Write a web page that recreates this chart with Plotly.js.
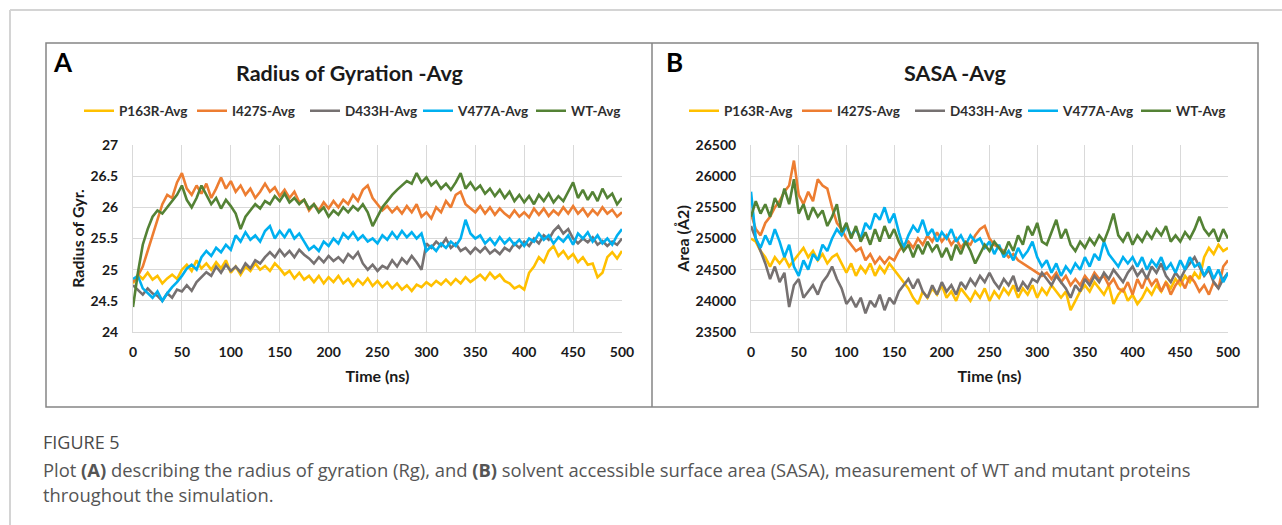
<!DOCTYPE html>
<html>
<head>
<meta charset="utf-8">
<script src="https://cdn.plot.ly/plotly-3.0.1.min.js"></script>
<style>html,body{margin:0;padding:0;background:#fff;}#chart{width:1282px;height:525px;}</style>
</head>
<body>
<div id="chart"></div>
<script>
// Time (ns)
const timeNs = [0,5,10,15,20,25,30,35,40,45,50,55,60,65,70,75,80,85,90,95,100,105,110,115,120,125,130,135,140,145,150,155,160,165,170,175,180,185,190,195,200,205,210,215,220,225,230,235,240,245,250,255,260,265,270,275,280,285,290,295,300,305,310,315,320,325,330,335,340,345,350,355,360,365,370,375,380,385,390,395,400,405,410,415,420,425,430,435,440,445,450,455,460,465,470,475,480,485,490,495,500];

const seriesNames = ["P163R-Avg","I427S-Avg","D433H-Avg","V477A-Avg","WT-Avg"];

// Panel A: Radius of gyration
const rgP163R = [24.78,24.92,24.85,24.95,24.84,24.9,24.78,24.86,24.92,24.85,25.0,25.08,24.98,25.15,25.02,25.1,25.0,25.12,25.02,25.15,24.95,25.05,24.92,25.05,24.98,25.1,25.0,25.06,24.98,25.1,25.02,24.92,24.98,24.86,24.95,24.84,24.9,24.8,24.9,24.78,24.88,24.8,24.9,24.78,24.85,24.74,24.84,24.76,24.86,24.74,24.82,24.72,24.8,24.7,24.78,24.68,24.75,24.66,24.76,24.72,24.8,24.74,24.82,24.76,24.84,24.76,24.85,24.78,24.88,24.8,24.86,24.92,24.84,24.95,24.86,24.92,24.82,24.78,24.7,24.74,24.68,24.95,25.05,25.2,25.12,25.3,25.38,25.22,25.3,25.18,25.25,25.12,25.2,25.08,25.1,24.88,24.95,25.2,25.28,25.18,25.3];
const rgI427S = [24.8,24.9,25.05,25.3,25.55,25.8,26.05,26.2,26.15,26.4,26.55,26.3,26.2,26.35,26.22,26.38,26.15,26.3,26.48,26.3,26.42,26.25,26.35,26.2,26.3,26.15,26.25,26.38,26.25,26.32,26.18,26.28,26.15,26.25,26.08,26.12,25.95,26.05,25.95,26.08,25.98,26.1,26.0,26.12,26.05,26.2,26.1,26.28,26.35,26.15,26.05,25.95,26.02,25.92,26.0,25.9,26.02,25.92,26.05,25.85,25.92,25.82,26.0,25.92,26.1,26.0,26.2,26.25,26.05,25.98,25.92,26.02,25.9,26.0,25.88,25.98,25.9,25.84,25.95,25.85,25.92,25.84,25.98,25.88,25.98,25.86,25.95,25.88,26.0,25.9,26.02,25.9,25.98,25.86,25.96,25.88,26.0,25.9,25.96,25.85,25.92];
const rgD433H = [24.75,24.68,24.6,24.7,24.62,24.58,24.5,24.62,24.55,24.68,24.65,24.75,24.66,24.8,24.88,24.96,24.9,25.05,24.95,25.08,24.98,25.05,24.96,25.1,25.02,25.15,25.1,25.2,25.28,25.2,25.32,25.22,25.3,25.2,25.32,25.24,25.18,25.1,25.2,25.12,25.22,25.14,25.2,25.12,25.25,25.18,25.28,25.1,25.0,25.08,24.98,25.06,25.02,25.15,25.05,25.18,25.1,25.22,25.12,25.0,25.42,25.35,25.45,25.38,25.5,25.35,25.42,25.3,25.35,25.26,25.35,25.28,25.36,25.26,25.32,25.25,25.35,25.3,25.42,25.35,25.45,25.38,25.5,25.42,25.55,25.48,25.62,25.7,25.58,25.65,25.5,25.42,25.5,25.44,25.52,25.4,25.46,25.38,25.45,25.4,25.5];
const rgV477A = [24.85,24.9,24.7,24.62,24.55,24.65,24.5,24.62,24.72,24.8,24.9,25.02,25.08,25.0,25.2,25.3,25.22,25.35,25.28,25.4,25.32,25.55,25.45,25.6,25.48,25.55,25.45,25.62,25.7,25.5,25.62,25.52,25.65,25.5,25.58,25.45,25.32,25.38,25.3,25.45,25.38,25.5,25.42,25.58,25.5,25.6,25.48,25.55,25.45,25.5,25.42,25.55,25.48,25.6,25.5,25.62,25.52,25.6,25.5,25.58,25.3,25.38,25.3,25.42,25.35,25.45,25.38,25.5,25.8,25.58,25.5,25.55,25.42,25.5,25.4,25.52,25.42,25.5,25.4,25.48,25.38,25.5,25.45,25.58,25.48,25.55,25.42,25.52,25.45,25.55,25.4,25.58,25.5,25.6,25.45,25.55,25.42,25.5,25.4,25.55,25.65];
const rgWT = [24.4,24.95,25.4,25.65,25.85,25.95,25.9,26.0,26.1,26.2,26.35,26.12,26.0,26.15,26.35,26.2,26.05,26.15,25.98,26.12,26.02,25.9,25.65,25.85,25.95,26.05,25.98,26.1,26.05,26.18,26.1,26.22,26.08,26.15,26.05,26.12,25.98,26.05,25.92,26.0,25.85,25.95,25.88,26.0,25.92,26.02,25.95,26.05,25.92,25.7,25.85,26.0,26.1,26.2,26.28,26.35,26.42,26.38,26.55,26.4,26.48,26.35,26.42,26.3,26.38,26.28,26.4,26.55,26.3,26.4,26.28,26.35,26.22,26.3,26.18,26.28,26.15,26.25,26.1,26.2,26.08,26.18,26.05,26.2,26.1,26.22,26.08,26.18,26.1,26.25,26.4,26.15,26.28,26.12,26.25,26.1,26.3,26.15,26.22,26.05,26.15];

// Panel B: SASA (Å2)
const sasaP163R = [25000,24950,24800,24700,24550,24700,24600,24700,24550,24650,24750,24850,24700,24800,24650,24750,24600,24700,24750,24600,24450,24600,24400,24550,24450,24600,24400,24550,24450,24600,24500,24400,24300,24200,24050,23950,24150,24050,24200,24100,24250,24050,24150,24000,24200,24100,24000,24150,24050,24200,24000,24150,24050,24200,24100,24250,24050,24200,24100,24250,24050,24200,24100,24250,24150,24050,24150,23850,24000,24150,24250,24150,24300,24200,24100,24250,23950,24100,24200,24000,24100,23950,24050,24200,24100,24250,24150,24300,24200,24350,24250,24400,24300,24450,24350,24700,24850,24750,24900,24800,24850];
const sasaI427S = [25400,25150,25050,25250,25350,25500,25600,25750,25850,26250,25700,25550,25750,25600,25950,25850,25800,25500,25250,25150,25000,24900,24800,24850,24650,24750,24600,24700,24600,24700,24650,24800,24900,24950,24850,25000,24900,25050,24950,25100,24950,25050,24900,25000,24850,24950,24900,25050,25150,25200,25000,24900,24850,24800,24700,24750,24650,24600,24550,24500,24450,24400,24450,24350,24450,24300,24400,24250,24350,24250,24400,24300,24450,24350,24400,24250,24350,24200,24150,24300,24100,24350,24200,24400,24250,24350,24150,24300,24100,24250,24350,24200,24400,24300,24150,24250,24100,24300,24200,24550,24650];
const sasaD433H = [25200,25000,24800,24600,24350,24550,24300,24450,23900,24250,24350,24050,24150,24250,24100,24300,24400,24550,24350,24200,23950,24050,23900,24050,23800,24000,23900,24100,23850,24050,23950,24150,24250,24350,24200,24350,24150,24050,24250,24100,24300,24150,24250,24100,24300,24200,24350,24250,24400,24300,24450,24300,24200,24350,24250,24400,24150,24300,24200,24350,24300,24450,24350,24250,24400,24300,24200,24050,24250,24150,24350,24250,24400,24300,24450,24350,24500,24400,24300,24450,24550,24400,24500,24350,24550,24450,24600,24400,24300,24450,24350,24500,24600,24700,24550,24400,24500,24300,24200,24350,24450];
const sasaV477A = [25750,25000,24850,25050,24900,25150,24950,24700,24900,24550,24400,24650,24500,24750,24650,24900,24800,25000,25150,25050,25200,25050,25150,25000,25250,25150,25400,25300,25500,25250,25400,25100,24850,25050,25200,25100,25300,25050,25150,24950,25100,25000,25150,24950,25050,24900,25050,24950,25000,24850,24950,24750,24900,24700,24800,24650,24850,24700,24800,24950,24700,24550,24650,24450,24600,24400,24550,24450,24600,24500,24700,24550,24750,24650,24950,24750,24650,24550,24700,24600,24700,24550,24700,24500,24650,24550,24700,24500,24600,24450,24650,24500,24700,24550,24600,24400,24550,24350,24500,24300,24450];
const sasaWT = [25350,25600,25400,25550,25350,25650,25500,25800,25550,25950,25400,25550,25300,25500,25350,25450,25200,25350,25550,25100,25250,25000,25200,24950,25100,24900,25150,24950,25200,25000,25150,24950,24800,24900,24700,24900,24750,24950,24800,24900,24700,24850,24650,24900,24750,24950,24800,24600,24750,24900,24800,24950,24850,24750,24950,24800,25050,24900,25200,25050,25250,24950,24900,25100,25300,25000,25150,24900,24800,24950,24850,25000,24900,25050,24950,25150,25400,25050,24950,25100,24900,25050,24950,25100,25000,25150,25050,25200,24950,25050,24950,25100,25000,25150,25350,25150,25050,25150,24950,25150,25000];

const seriesColors = ["#FFC000","#ED7D31","#767171","#00B0F0","#548235"];
const rgData = [rgP163R, rgI427S, rgD433H, rgV477A, rgWT];
const sasaData = [sasaP163R, sasaI427S, sasaD433H, sasaV477A, sasaWT];

const W = 1282, H = 525;
const px = x => x / W;
const py = y => 1 - y / H;
const FONT = "Lato, 'Open Sans', 'DejaVu Sans', sans-serif";

const traces = [];
rgData.forEach((vals, i) => {
  traces.push({x: timeNs, y: vals, type: 'scatter', mode: 'lines', name: seriesNames[i],
    xaxis: 'x', yaxis: 'y', legend: 'legend',
    line: {color: seriesColors[i], width: 2.6}, hoverinfo: 'x+y+name'});
});
sasaData.forEach((vals, i) => {
  traces.push({x: timeNs, y: vals, type: 'scatter', mode: 'lines', name: seriesNames[i],
    xaxis: 'x2', yaxis: 'y2', legend: 'legend2',
    line: {color: seriesColors[i], width: 2.6}, hoverinfo: 'x+y+name'});
});

const tickFont = {family: FONT, size: 14, color: '#1a1a1a', weight: 'bold'};
const axTitleFont = {family: FONT, size: 16, color: '#1a1a1a', weight: 'bold'};
const gridC = '#d9d9d9';

function xAxis(domain, anchor) {
  return {domain: domain, anchor: anchor, range: [0, 500], dtick: 50, tick0: 0,
    showgrid: true, gridcolor: gridC, gridwidth: 1, showline: true, linecolor: gridC, linewidth: 1,
    zeroline: false, ticks: '', tickfont: tickFont, ticklabelstandoff: 7,
    title: {text: 'Time (ns)', font: axTitleFont, standoff: 12}, fixedrange: true};
}
function yAxis(domain, anchor, range, dtick, title) {
  return {domain: domain, anchor: anchor, range: range, dtick: dtick,
    showgrid: true, gridcolor: gridC, gridwidth: 1, showline: true, linecolor: gridC, linewidth: 1,
    zeroline: false, ticks: '', tickfont: tickFont, ticklabelstandoff: 11, tickformat: 'd',
    title: {text: title, font: axTitleFont, standoff: 1}, fixedrange: true};
}

const yDom = [py(332), py(145)];
const yA = yAxis(yDom, 'x', [24, 27], 0.5, 'Radius of Gyr.');
yA.tickformat = '';
const legendFont = {family: FONT, size: 13.5, color: '#2e2e2e', weight: 'bold'};
const layout = {
  width: W, height: H, autosize: false,
  margin: {l: 0, r: 0, t: 0, b: 0, autoexpand: false},
  paper_bgcolor: '#ffffff', plot_bgcolor: '#ffffff',
  font: {family: FONT},
  title: {text: ''},
  xaxis: xAxis([px(133), px(622)], 'y'),
  yaxis: yA,
  xaxis2: xAxis([px(751), px(1228)], 'y2'),
  yaxis2: yAxis(yDom, 'x2', [23500, 26500], 500, 'Area (Å2)'),
  legend: {orientation: 'h', x: px(79), y: py(111), xanchor: 'left', yanchor: 'middle',
    entrywidth: 68, entrywidthmode: 'pixels', itemwidth: 30,
    font: legendFont, bgcolor: 'rgba(0,0,0,0)'},
  legend2: {orientation: 'h', x: px(684), y: py(111), xanchor: 'left', yanchor: 'middle',
    entrywidth: 68, entrywidthmode: 'pixels', itemwidth: 30,
    font: legendFont, bgcolor: 'rgba(0,0,0,0)'},
  shapes: [
    {type: 'line', xref: 'paper', yref: 'paper', x0: px(10), x1: 1, y0: py(10), y1: py(10), line: {color: '#d4d4d4', width: 2}},
    {type: 'line', xref: 'paper', yref: 'paper', x0: px(10), x1: px(10), y0: py(10), y1: 0, line: {color: '#d4d4d4', width: 2}},
    {type: 'rect', xref: 'paper', yref: 'paper', x0: px(46), x1: px(1258), y0: py(407), y1: py(43), line: {color: '#858585', width: 1.5}},
    {type: 'line', xref: 'paper', yref: 'paper', x0: px(652), x1: px(652), y0: py(407), y1: py(43), line: {color: '#858585', width: 1.5}}
  ],
  annotations: [
    {text: 'A', xref: 'paper', yref: 'paper', x: px(51), y: py(62), xanchor: 'left', yanchor: 'middle', showarrow: false,
      font: {family: FONT, size: 26, color: '#000', weight: 'bold'}},
    {text: 'B', xref: 'paper', yref: 'paper', x: px(664), y: py(62), xanchor: 'left', yanchor: 'middle', showarrow: false,
      font: {family: FONT, size: 26, color: '#000', weight: 'bold'}},
    {text: 'Radius of Gyration -Avg', xref: 'paper', yref: 'paper', x: px(349), y: py(73), xanchor: 'center', yanchor: 'middle', showarrow: false,
      font: {family: FONT, size: 21.5, color: '#1a1a1a', weight: 'bold'}},
    {text: 'SASA -Avg', xref: 'paper', yref: 'paper', x: px(955), y: py(73), xanchor: 'center', yanchor: 'middle', showarrow: false,
      font: {family: FONT, size: 21.5, color: '#1a1a1a', weight: 'bold'}},
    {text: 'FIGURE 5', xref: 'paper', yref: 'paper', x: px(41), y: py(442), xanchor: 'left', yanchor: 'middle', showarrow: false,
      font: {family: "'Open Sans', sans-serif", size: 18, color: '#4a4a4a'}},
    {text: 'Plot <b>(A)</b> describing the radius of gyration (Rg), and <b>(B)</b> solvent accessible surface area (SASA), measurement of WT and mutant proteins', xref: 'paper', yref: 'paper', x: px(41), y: py(469), xanchor: 'left', yanchor: 'middle', showarrow: false,
      font: {family: "'Open Sans', sans-serif", size: 18.4, color: '#555555'}},
    {text: 'throughout the simulation.', xref: 'paper', yref: 'paper', x: px(41), y: py(494), xanchor: 'left', yanchor: 'middle', showarrow: false,
      font: {family: "'Open Sans', sans-serif", size: 18.4, color: '#555555'}}
  ]
};

Plotly.newPlot('chart', traces, layout, {displayModeBar: false, staticPlot: false, responsive: false});
</script>
</body>
</html>
